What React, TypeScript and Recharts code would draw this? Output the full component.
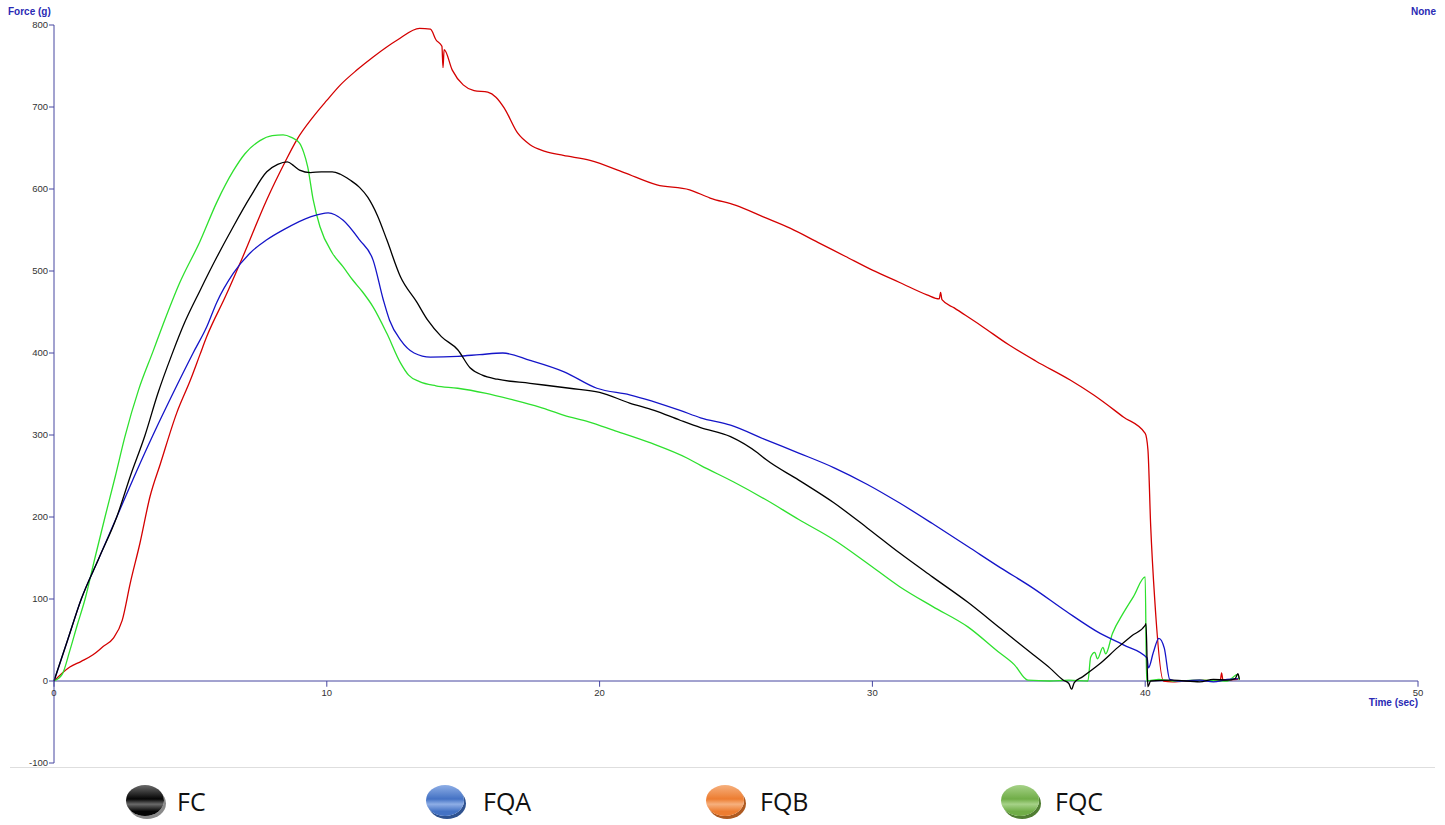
import { LineChart, Line, XAxis, YAxis, ReferenceLine } from 'recharts';

// readings are [time (sec), force (g)]
const fcPoints = [
  [0, 0], [0.5, 50], [1, 100], [1.65, 150], [2.3, 200], [2.8, 250], [3.34, 300], [3.8, 350], [4.32, 398],
  [4.8, 438], [5.35, 476], [5.97, 517], [6.57, 554], [7.19, 590], [7.8, 621], [8.2, 630], [8.55, 633],
  [8.8, 628], [9.0, 623], [9.4, 620], [9.8, 621], [10.2, 621], [10.5, 618], [10.85, 611], [11.2, 602],
  [11.5, 590], [11.85, 568], [12.2, 538], [12.7, 493], [13.3, 462], [13.7, 440], [14.2, 420], [14.8, 404],
  [15.25, 382], [15.7, 373], [16.25, 368], [17.45, 363], [18.9, 357], [20, 352], [21.1, 339], [22, 330],
  [22.95, 318], [23.7, 309], [24.8, 298], [25.8, 278], [26.1, 270], [27.3, 245], [28.6, 217], [29.8, 187],
  [31, 156], [32.2, 127], [33.5, 96], [34.7, 64], [35.9, 32], [36.5, 16], [37, 1], [37.2, -3], [37.3, -10],
  [37.4, -2], [37.7, 5], [38.3, 20], [39, 41], [39.5, 55], [40, 68], [40.03, 70], [40.08, 10], [40.1, -7],
  [40.2, 0], [41, 1], [42, -1], [42.5, 2], [43, 1], [43.3, 3], [43.4, 9], [43.45, 2],
];

const fqaPoints = [
  [0, 0], [0.5, 50], [1, 100], [1.65, 150], [2.3, 200], [2.95, 250], [3.63, 300], [4.35, 350], [5.1, 400],
  [5.6, 432], [5.97, 462], [6.57, 497], [7.19, 522], [7.8, 538], [8.4, 550], [9.4, 566], [10.05, 571],
  [10.6, 562], [11.2, 538], [11.7, 513], [12.07, 465], [12.3, 440], [12.7, 416], [13.2, 400], [13.8, 395],
  [14.8, 396], [15.6, 398], [16.45, 400], [17.45, 391], [18.7, 377], [19.9, 357], [21.1, 349], [22.95, 330],
  [23.7, 321], [24.8, 312], [26.1, 294], [27.3, 278], [28.6, 260], [29.8, 240], [31, 217], [32.2, 192],
  [33.5, 164], [34.7, 138], [35.9, 113], [37.1, 85], [38.35, 58], [39.2, 44], [40.07, 28], [40.12, 16],
  [40.3, 35], [40.5, 52], [40.7, 40], [40.9, 2], [41.2, 0], [42, 1], [42.5, -1], [43, 2], [43.4, 3],
];

const fqbPoints = [
  [0, 0], [0.58, 17], [1, 24], [1.43, 32], [1.8, 42], [2.17, 52], [2.5, 74], [2.8, 120], [3.15, 168],
  [3.52, 225], [3.9, 265], [4.5, 327], [5.0, 367], [5.35, 398], [5.6, 420], [6.3, 470], [6.93, 518],
  [7.8, 587], [8.47, 633], [8.9, 660], [9.5, 688], [10, 708], [10.5, 727], [11.1, 745], [11.7, 761],
  [12.6, 782], [13.4, 796], [13.8, 795], [14.0, 782], [14.22, 774], [14.26, 748], [14.3, 770], [14.6, 745],
  [15.0, 727], [15.4, 720], [15.9, 718], [16.2, 712], [16.5, 699], [17.0, 668], [17.45, 654], [18.0, 646],
  [18.67, 641], [19.65, 635], [20.9, 620], [22.1, 605], [23.3, 599], [24.05, 589], [25, 580], [26, 566],
  [27, 552], [28, 535], [29, 518], [30, 501], [31, 486], [32, 471], [32.45, 466], [32.5, 474], [32.55, 465],
  [33, 455], [34, 433], [35, 410], [36, 390], [37.25, 367], [38.1, 349], [39.2, 322], [40, 302], [40.1, 282],
  [40.2, 190], [40.35, 99], [40.67, 0], [41, -1], [42, 1], [42.75, 0], [42.8, 10], [42.85, 1], [43.4, 2],
];

const fqcPoints = [
  [0, 0], [0.3, 8], [0.58, 37], [0.85, 68], [1.14, 100], [1.5, 150], [1.87, 200], [2.25, 250], [2.6, 298],
  [3.1, 355], [3.63, 402], [4.0, 435], [4.6, 485], [5.35, 536], [5.97, 584], [6.57, 622], [7.0, 643],
  [7.55, 659], [8.0, 665], [8.4, 666], [8.7, 663], [9.0, 656], [9.15, 645], [9.3, 627], [9.5, 587],
  [9.75, 554], [10.2, 522], [10.6, 505], [10.95, 489], [11.3, 475], [11.7, 456], [12.2, 424], [12.7, 388],
  [13.0, 373], [13.4, 365], [14.0, 360], [14.8, 357], [15.8, 351], [16.8, 343], [17.8, 334], [18.7, 324],
  [19.6, 316], [20.5, 306], [21.9, 290], [23.2, 272], [23.7, 263], [24.9, 243], [26.1, 221], [27.3, 197],
  [28.6, 172], [29.8, 144], [31, 115], [32.2, 91], [33.5, 66], [34.6, 36], [35.2, 20], [35.7, 1], [36.5, 0],
  [37.2, 1], [37.9, 0], [38.0, 29], [38.15, 35], [38.25, 27], [38.45, 41], [38.55, 33], [38.8, 58],
  [39.2, 83], [39.57, 103], [40.0, 127], [40.05, 0], [40.5, 2], [41, 0], [42, 1], [43, 0], [43.4, 8], [43.45, 1],
];

const xTicks = [0, 10, 20, 30, 40, 50];
const yTicks = [-100, 0, 100, 200, 300, 400, 500, 600, 700, 800];

const series = [
  { name: 'FQB', points: fqbPoints, stroke: '#d40000' },
  { name: 'FQC', points: fqcPoints, stroke: '#2ee02e' },
  { name: 'FQA', points: fqaPoints, stroke: '#1414c8' },
  { name: 'FC', points: fcPoints, stroke: '#000000' },
];

const legendItems = [
  { name: 'FC', light: '#6a6a6a', base: '#050505', shadow: '#8a8a8a' },
  { name: 'FQA', light: '#8eaee6', base: '#4472c4', shadow: '#2f528f' },
  { name: 'FQB', light: '#f6b07e', base: '#ed7d31', shadow: '#ae5a21' },
  { name: 'FQC', light: '#a6d288', base: '#70ad47', shadow: '#507e32' },
];
const iconLeft = [126, 426, 706, 1001];
const labelLeft = [177, 483, 760, 1055];

const axisColor = '#4646a0';
const titleColor = '#2a2ab4';
const tickFont = { fontSize: 9.5, fill: '#333', fontFamily: 'Liberation Sans, Arial, sans-serif' };

const toRows = (pts: number[][]) => pts.map(([t, v]) => ({ t, v }));

function LegendIcon({ light, base, shadow }: { light: string; base: string; shadow: string }) {
  return (
    <div
      style={{
        width: 38,
        height: 31,
        borderRadius: '50%',
        background: `linear-gradient(to bottom, ${light} 0%, ${base} 45%, ${light} 62%, ${base} 85%)`,
        boxShadow: `2px 3px 0 ${shadow}`,
      }}
    />
  );
}

export default function App() {
  return (
    <div
      style={{
        position: 'absolute',
        left: 0,
        top: 0,
        width: 1445,
        height: 825,
        background: '#fff',
        overflow: 'hidden',
        fontFamily: 'Liberation Sans, Arial, sans-serif',
      }}
    >
      <LineChart width={1445} height={770} margin={{ top: 25, right: 27, left: 0, bottom: 7 }}>
        <XAxis dataKey="t" type="number" domain={[0, 50]} ticks={xTicks} hide />
        <YAxis
          type="number"
          domain={[-100, 800]}
          ticks={yTicks}
          width={54}
          tickSize={5}
          tickMargin={1}
          interval={0}
          tick={tickFont}
          axisLine={{ stroke: axisColor }}
          tickLine={{ stroke: axisColor }}
        />
        <ReferenceLine y={0} stroke={axisColor} strokeWidth={1} />
        {xTicks.map(t => (
          <ReferenceLine
            key={t}
            segment={[{ x: t, y: 0 }, { x: t, y: -7 }]}
            stroke={axisColor}
            label={{ value: String(t), position: 'bottom', offset: 3, ...tickFont }}
          />
        ))}
        {series.map(s => (
          <Line
            key={s.name}
            data={toRows(s.points)}
            dataKey="v"
            name={s.name}
            type="monotone"
            stroke={s.stroke}
            strokeWidth={1.3}
            dot={false}
            activeDot={false}
            isAnimationActive={false}
          />
        ))}
      </LineChart>

      <div style={{ position: 'absolute', left: 8, top: 6, fontSize: 10, fontWeight: 'bold', color: titleColor }}>
        Force (g)
      </div>
      <div
        style={{
          position: 'absolute',
          left: 1411,
          top: 6,
          whiteSpace: 'nowrap',
          fontSize: 10,
          fontWeight: 'bold',
          color: titleColor,
        }}
      >
        None
      </div>
      <div
        style={{
          position: 'absolute',
          right: 1445 - 1418,
          top: 697,
          fontSize: 10,
          fontWeight: 'bold',
          color: titleColor,
        }}
      >
        Time (sec)
      </div>

      <div style={{ position: 'absolute', left: 10, top: 767, width: 1425, height: 1, background: '#dedede' }} />

      {legendItems.map((item, i) => (
        <div key={item.name}>
          <div style={{ position: 'absolute', left: iconLeft[i], top: 785 }}>
            <LegendIcon light={item.light} base={item.base} shadow={item.shadow} />
          </div>
          <span
            style={{
              position: 'absolute',
              left: labelLeft[i],
              top: 785,
              fontFamily: 'Open Sans, sans-serif',
              fontSize: 25,
              color: '#111',
              lineHeight: '32px',
            }}
          >
            {item.name}
          </span>
        </div>
      ))}
    </div>
  );
}
